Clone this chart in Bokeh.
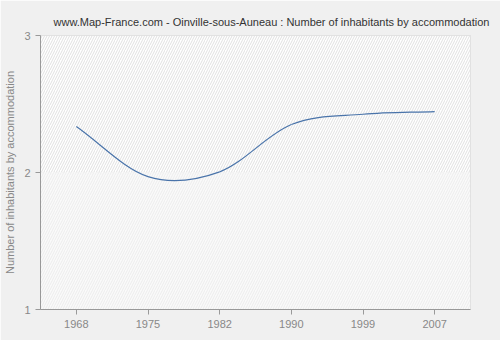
from bokeh.plotting import figure
from bokeh.models import BoxAnnotation, FixedTicker, Range1d
from bokeh.embed import file_html
from bokeh.resources import INLINE

years = ["1968", "1975", "1982", "1990", "1999", "2007"]
values = [2.335, 1.97, 2.005, 2.35, 2.425, 2.445]
y_ticks = [1, 2, 3]

xs = list(range(len(years)))
FONT = "Liberation Sans"

p = figure(width=500, height=340, output_backend="svg", toolbar_location=None,
           x_range=Range1d(-0.5, len(years) - 0.5), y_range=Range1d(1, 3),
           frame_width=430, frame_height=274,
           min_border_left=40, min_border_right=30, min_border_top=35, min_border_bottom=31)

p.border_fill_color = "#f0f0f0"
p.background_fill_color = "#ffffff"
p.outline_line_color = "#d8d8d8"

# hatched background
p.add_layout(BoxAnnotation(bottom=2, top=3, fill_color="#ffffff", fill_alpha=1,
                           hatch_pattern="/", hatch_color="#d8d8d8", hatch_scale=5,
                           hatch_weight=0.8, line_alpha=0, level="underlay"))
p.add_layout(BoxAnnotation(bottom=1, top=2, fill_color="#fafafa", fill_alpha=1,
                           hatch_pattern="/", hatch_color="#e8e8e8", hatch_scale=5,
                           hatch_weight=0.8, line_alpha=0, level="underlay"))

# smooth curve via cubic bezier segments (Catmull-Rom control points)
x0, y0, x1, y1, cx0, cy0, cx1, cy1 = [], [], [], [], [], [], [], []
n = len(values)
for i in range(n - 1):
    ym1 = values[i - 1] if i > 0 else 2 * values[0] - values[1]
    y2 = values[i + 2] if i + 2 < n else 2 * values[-1] - values[-2]
    x0.append(xs[i]); y0.append(values[i])
    x1.append(xs[i + 1]); y1.append(values[i + 1])
    cx0.append(xs[i] + 1 / 3); cy0.append(values[i] + (values[i + 1] - ym1) / 6)
    cx1.append(xs[i + 1] - 1 / 3); cy1.append(values[i + 1] - (y2 - values[i]) / 6)

p.bezier(x0=x0, y0=y0, x1=x1, y1=y1, cx0=cx0, cy0=cy0, cx1=cx1, cy1=cy1,
         line_color="#4a74aa", line_width=1.2)

p.title.text = "www.Map-France.com - Oinville-sous-Auneau : Number of inhabitants by accommodation"
p.title.text_font = FONT
p.title.text_font_size = "11px"
p.title.text_font_style = "normal"
p.title.text_color = "#333333"
p.title.align = "left"
p.title.offset = 13
p.title.standoff = 16

p.xaxis.ticker = FixedTicker(ticks=xs)
p.xaxis.major_label_overrides = {i: y for i, y in enumerate(years)}
p.yaxis.ticker = FixedTicker(ticks=y_ticks)
p.yaxis.axis_label = "Number of inhabitants by accommodation"

for ax in (p.xaxis, p.yaxis):
    ax.axis_line_color = "#999999"
    ax.major_tick_line_color = "#999999"
    ax.minor_tick_line_color = None
    ax.major_tick_out = 5
    ax.major_tick_in = 0
    ax.major_label_text_font = FONT
    ax.major_label_text_font_size = "11px"
    ax.major_label_text_color = "#888888"
    ax.axis_label_text_font = FONT
    ax.axis_label_text_font_size = "11px"
    ax.axis_label_text_font_style = "normal"
    ax.axis_label_text_color = "#888888"

p.xgrid.grid_line_color = "#e0e0e0"
p.xgrid.grid_line_dash = "4 3"
p.ygrid.grid_line_color = "#e0e0e0"
p.ygrid.grid_line_dash = "4 3"

open("out.html", "w").write(file_html(p, INLINE))
